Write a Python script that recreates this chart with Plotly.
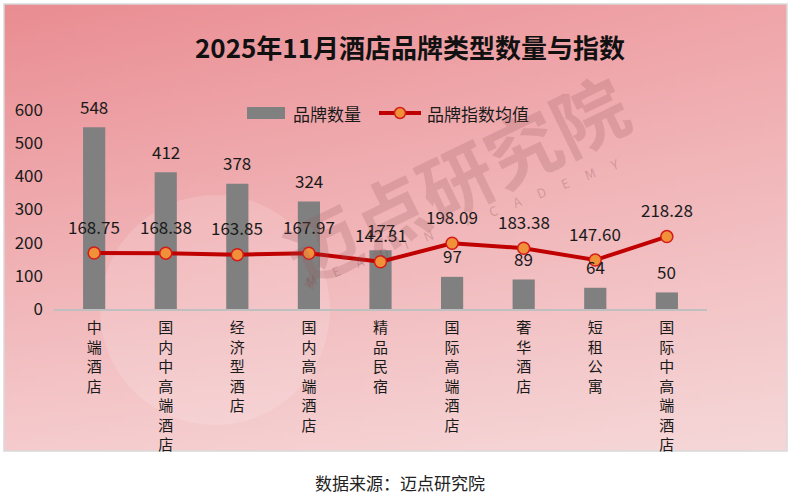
import base64, struct, zlib
import plotly.graph_objects as go

# ---------------- data ----------------
categories = ["中端酒店", "国内中高端酒店", "经济型酒店", "国内高端酒店", "精品民宿",
              "国际高端酒店", "奢华酒店", "短租公寓", "国际中高端酒店"]
brand_count = [548, 412, 378, 324, 177, 97, 89, 64, 50]
brand_index = [168.75, 168.38, 163.85, 167.97, 142.31, 198.09, 183.38, 147.60, 218.28]
y_ticks = [0, 100, 200, 300, 400, 500, 600]

W, H = 800, 494
FONT = "Noto Sans CJK SC"


# ---------------- gradient background (PNG built in pure python) ----------------
def make_png(w, h, color_fn):
    raw = bytearray()
    for j in range(h):
        raw.append(0)
        for i in range(w):
            raw.extend(color_fn(i / (w - 1), j / (h - 1)))
    def chunk(tag, data):
        c = struct.pack(">I", len(data)) + tag + data
        return c + struct.pack(">I", zlib.crc32(tag + data) & 0xffffffff)
    png = b"\x89PNG\r\n\x1a\n"
    png += chunk(b"IHDR", struct.pack(">IIBBBBB", w, h, 8, 2, 0, 0, 0))
    png += chunk(b"IDAT", zlib.compress(bytes(raw), 9))
    png += chunk(b"IEND", b"")
    return "data:image/png;base64," + base64.b64encode(png).decode()

TL, TR = (233, 141, 146), (239, 165, 169)
BL, BR = (245, 203, 205), (245, 215, 216)

def grad(u, v):
    out = []
    for k in range(3):
        top = TL[k] + (TR[k] - TL[k]) * u
        bot = BL[k] + (BR[k] - BL[k]) * u
        out.append(int(round(top + (bot - top) * v)))
    return bytes(out)

bg_src = make_png(160, 100, grad)

# ---------------- geometry helpers ----------------
def px(x):
    return x / W

def py(y):
    return 1 - y / H

fig = go.Figure()

fig.add_trace(go.Bar(
    x=categories, y=brand_count, name="品牌数量",
    marker=dict(color="#808080", line=dict(width=0)),
    width=0.31, showlegend=False, hoverinfo="x+y",
))
fig.add_trace(go.Scatter(
    x=categories, y=brand_index, name="品牌指数均值", mode="lines+markers",
    line=dict(color="#c00000", width=4),
    marker=dict(color="#f0913a", size=12, line=dict(color="#d41a1a", width=1.5)),
    showlegend=False,
))

def ann(**kw):
    base = dict(showarrow=False, xanchor="center", yanchor="middle")
    base.update(kw)
    return base

annotations = []
for c, v in zip(categories, brand_count):
    annotations.append(ann(x=c, y=v, xref="x", yref="y", text=str(v),
                           yshift=21, font=dict(family=FONT, size=17, color="#1a1a1a")))
for c, v in zip(categories, brand_index):
    annotations.append(ann(x=c, y=v, xref="x", yref="y", text=f"{v:.2f}",
                           yshift=27, font=dict(family=FONT, size=17, color="#1a1a1a")))

# title
annotations.append(ann(x=px(410), y=py(47), xref="paper", yref="paper",
                       text="<b>2025年11月酒店品牌类型数量与指数</b>",
                       font=dict(family=FONT, size=26, color="#111111")))
# source
annotations.append(ann(x=px(400), y=py(482), xref="paper", yref="paper",
                       text="数据来源：迈点研究院",
                       font=dict(family=FONT, size=17, color="#222222")))
# legend texts
annotations.append(ann(x=px(291), y=py(113), xref="paper", yref="paper",
                       xanchor="left", text="品牌数量",
                       font=dict(family=FONT, size=17, color="#1a1a1a")))
annotations.append(ann(x=px(425), y=py(113), xref="paper", yref="paper",
                       xanchor="left", text="品牌指数均值",
                       font=dict(family=FONT, size=17, color="#1a1a1a")))
# watermark
annotations.append(ann(x=px(455), y=py(178), xref="paper", yref="paper",
                       text="<b>迈点研究院</b>", textangle=-26,
                       font=dict(family=FONT, size=74, color="rgba(150,85,90,0.22)")))
annotations.append(ann(x=px(462), y=py(222), xref="paper", yref="paper",
                       text="M      E      A      D      I      N            A      C      A      D      E      M      Y",
                       textangle=-21,
                       font=dict(family=FONT, size=13, color="rgba(110,60,60,0.25)")))

shapes = [
    # panel border
    dict(type="rect", xref="paper", yref="paper", x0=px(4), x1=px(787), y0=py(451), y1=py(4),
         line=dict(color="#d9d9d9", width=1.5), fillcolor="rgba(0,0,0,0)", layer="below"),
    # watermark circle
    dict(type="circle", xref="paper", yref="paper", x0=px(100), x1=px(330), y0=py(425), y1=py(195),
         line=dict(width=0), fillcolor="rgba(255,255,255,0.14)", layer="below"),
    # legend bar swatch
    dict(type="rect", xref="paper", yref="paper", x0=px(247), x1=px(285), y0=py(119), y1=py(107),
         line=dict(width=0), fillcolor="#808080"),
    # legend line swatch
    dict(type="line", xref="paper", yref="paper", x0=px(379), x1=px(421), y0=py(113), y1=py(113),
         line=dict(color="#c00000", width=4)),
    dict(type="circle", xref="paper", yref="paper", x0=px(394.5), x1=px(405.5), y0=py(118.5), y1=py(107.5),
         line=dict(color="#d41a1a", width=1.5), fillcolor="#f0913a"),
]

fig.update_layout(
    template="none",
    width=W, height=H,
    margin=dict(l=0, r=0, t=0, b=0, pad=0, autoexpand=False),
    paper_bgcolor="white",
    plot_bgcolor="rgba(0,0,0,0)",
    font=dict(family=FONT, color="#1a1a1a"),
    showlegend=False,
    annotations=annotations,
    shapes=shapes,
    images=[dict(source=bg_src, xref="paper", yref="paper", x=px(4), y=py(4),
                 sizex=px(783), sizey=447 / H, sizing="stretch", layer="below",
                 xanchor="left", yanchor="top")],
    xaxis=dict(
        domain=[px(54), px(707)],
        automargin=False,
        tickmode="array", tickvals=categories,
        ticktext=["<br>".join(list(c)) for c in categories],
        tickfont=dict(family=FONT, size=15, color="#1a1a1a"),
        tickangle=0,
        showline=True, linecolor="#bfbfbf", linewidth=2,
        showgrid=False, ticks="", zeroline=False,
        ticklabelstandoff=4,
    ),
    yaxis=dict(
        domain=[py(309), py(110)],
        automargin=False,
        range=[0, 600],
        tickmode="array", tickvals=y_ticks,
        tickfont=dict(family=FONT, size=17, color="#1a1a1a"),
        showgrid=False, showline=False, zeroline=False, ticks="",
        ticklabelstandoff=10,
    ),
)

fig.write_html(
    "out.html",
    config={"displayModeBar": False},
    post_script="document.body.style.margin='0';document.body.style.overflow='hidden';",
)
